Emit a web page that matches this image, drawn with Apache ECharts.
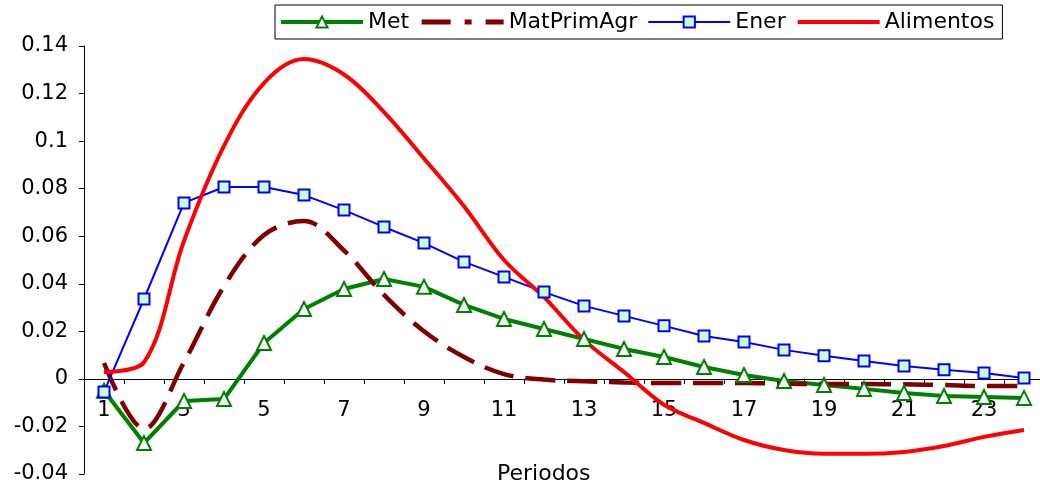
<!DOCTYPE html>
<html>
<head>
<meta charset="utf-8">
<script src="https://cdn.jsdelivr.net/npm/echarts@6/dist/echarts.min.js"></script>
<style>
  html, body { margin: 0; padding: 0; background: #fff; }
  #chart { width: 1040px; height: 485px; }
</style>
</head>
<body>
<div id="chart"></div>
<script>
const periods = ['1','2','3','4','5','6','7','8','9','10','11','12','13','14','15','16','17','18','19','20','21','22','23','24'];
const yTicks = { min: -0.04, max: 0.14, interval: 0.02 };
const seriesNames = ['Met', 'MatPrimAgr', 'Ener', 'Alimentos'];
const met = [-0.005, -0.027, -0.0093, -0.0085, 0.0151, 0.0294, 0.0378, 0.042, 0.0387, 0.0311, 0.0252, 0.021, 0.0168, 0.0126, 0.0092, 0.005, 0.0016, -0.0009, -0.0026, -0.0042, -0.0059, -0.0072, -0.0076, -0.008];
const matPrimAgr = [0.0067, -0.021, 0.007, 0.039, 0.0605, 0.0664, 0.054, 0.0353, 0.020, 0.0092, 0.002, -0.0003, -0.001, -0.0015, -0.0017, -0.0017, -0.0017, -0.002, -0.0022, -0.0022, -0.0023, -0.0026, -0.003, -0.003];
const ener = [-0.0055, 0.0336, 0.074, 0.0807, 0.0807, 0.0773, 0.071, 0.0639, 0.0571, 0.0492, 0.0429, 0.0365, 0.0307, 0.0265, 0.0223, 0.018, 0.0155, 0.0122, 0.0097, 0.0075, 0.0054, 0.0038, 0.0025, 0.0004];
const alimentos = [0.0029, 0.007, 0.058, 0.098, 0.1244, 0.1345, 0.128, 0.1122, 0.0927, 0.0726, 0.050, 0.0344, 0.0164, 0.0029, -0.0109, -0.0185, -0.0257, -0.0299, -0.0315, -0.0315, -0.0307, -0.0282, -0.0244, -0.0215];
const xName = 'Periodos';

const FONT = 'DejaVu Sans';
const GRID_TOP = 46, GRID_BOTTOM = 11, CHART_H = 485;
const plotH = CHART_H - GRID_TOP - GRID_BOTTOM;
// shift the category axis up so it sits on the value 0 line (labels travel with it)
const zeroOffset = -plotH * (0 - yTicks.min) / (yTicks.max - yTicks.min);

const chart = echarts.init(document.getElementById('chart'), null, { renderer: 'canvas' });
chart.setOption({
  animation: false,
  backgroundColor: '#ffffff',
  textStyle: { fontFamily: FONT, color: '#000' },
  title: {
    text: xName,
    left: 497, top: 463,
    padding: 0,
    textStyle: { fontFamily: FONT, fontSize: 22, fontWeight: 'normal', color: '#000' }
  },
  legend: {
    left: 275, top: 5,
    padding: [6, 8, 6, 4],
    itemGap: 10,
    itemWidth: 82,
    itemHeight: 14,
    borderColor: '#000',
    borderWidth: 1,
    borderRadius: 0,
    textStyle: { fontFamily: FONT, fontSize: 22, color: '#000' },
    data: [
      { name: seriesNames[0], lineStyle: { width: 4 } },
      { name: seriesNames[1], itemStyle: { opacity: 0 }, lineStyle: { width: 5, type: [29, 14, 7, 14] } },
      { name: seriesNames[2], lineStyle: { width: 2 } },
      { name: seriesNames[3], itemStyle: { opacity: 0 }, lineStyle: { width: 4 } }
    ]
  },
  grid: { left: 84, top: GRID_TOP, width: 960, bottom: GRID_BOTTOM, outerBoundsMode: 'none', containLabel: false },
  xAxis: {
    type: 'category',
    data: periods,
    boundaryGap: true,
    offset: zeroOffset,
    axisLine: { onZero: false, lineStyle: { color: '#000', width: 1 } },
    axisTick: { show: true, interval: 0, length: 5, inside: false, lineStyle: { color: '#000' } },
    axisLabel: { interval: 1, margin: 21, fontFamily: FONT, fontSize: 21, color: '#000' },
    splitLine: { show: false }
  },
  yAxis: {
    type: 'value',
    min: yTicks.min, max: yTicks.max, interval: yTicks.interval,
    axisLine: { show: true, lineStyle: { color: '#000', width: 1 } },
    axisTick: { show: true, length: 5, lineStyle: { color: '#000' } },
    axisLabel: { margin: 16, fontFamily: FONT, fontSize: 21, color: '#000' },
    splitLine: { show: false }
  },
  series: [
    {
      name: seriesNames[0], type: 'line', data: met,
      symbol: 'triangle', symbolSize: 14,
      lineStyle: { color: '#008000', width: 4 },
      itemStyle: { color: '#ffffff', borderColor: '#008000', borderWidth: 2 },
      color: '#008000'
    },
    {
      name: seriesNames[1], type: 'line', data: matPrimAgr,
      symbol: 'none', smooth: 0.35,
      lineStyle: { color: '#800000', width: 4.5, type: [30, 12] },
      itemStyle: { color: '#800000' },
      color: '#800000'
    },
    {
      name: seriesNames[2], type: 'line', data: ener,
      symbol: 'rect', symbolSize: 11,
      lineStyle: { color: '#0000ff', width: 2 },
      itemStyle: { color: '#ccffcc', borderColor: '#0000ff', borderWidth: 2 },
      color: '#0000ff'
    },
    {
      name: seriesNames[3], type: 'line', data: alimentos,
      symbol: 'none', smooth: 0.35,
      lineStyle: { color: '#ff0000', width: 4 },
      itemStyle: { color: '#ff0000' },
      color: '#ff0000'
    }
  ]
});
</script>
</body>
</html>
